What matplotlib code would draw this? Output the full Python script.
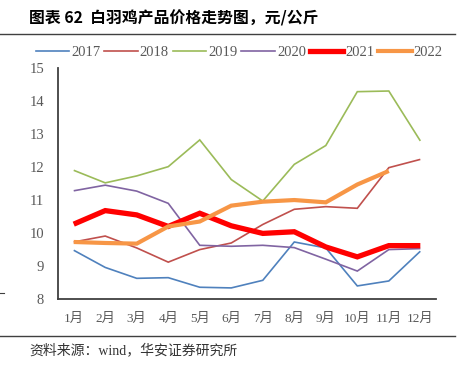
import matplotlib
matplotlib.use("Agg")
from matplotlib import pyplot as plt
from matplotlib.lines import Line2D

months = ["1月", "2月", "3月", "4月", "5月", "6月", "7月", "8月", "9月", "10月", "11月", "12月"]

p2017 = [9.48, 8.96, 8.63, 8.65, 8.36, 8.34, 8.57, 9.73, 9.55, 8.40, 8.55, 9.45]
p2018 = [9.73, 9.91, 9.55, 9.12, 9.50, 9.70, 10.26, 10.72, 10.80, 10.75, 11.98, 12.23]
p2019 = [11.90, 11.52, 11.73, 12.01, 12.82, 11.62, 10.97, 12.08, 12.65, 14.28, 14.30, 12.79]
p2020 = [11.28, 11.45, 11.27, 10.90, 9.63, 9.60, 9.63, 9.56, 9.21, 8.85, 9.50, 9.53]
p2021 = [10.27, 10.68, 10.55, 10.20, 10.60, 10.22, 9.99, 10.04, 9.58, 9.28, 9.62, 9.62]
p2022 = [9.73, 9.70, 9.68, 10.20, 10.35, 10.83, 10.95, 11.00, 10.93, 11.47, 11.88]

series = [
    ("2017", p2017, "#4F81BD", 1.2),
    ("2018", p2018, "#C0504D", 1.2),
    ("2019", p2019, "#9BBB59", 1.2),
    ("2020", p2020, "#8064A2", 1.2),
    ("2021", p2021, "#FF0000", 3.8),
    ("2022", p2022, "#F79646", 3.0),
]

cjk = ["Noto Sans CJK SC", "DejaVu Sans"]
serif_cjk = ["Liberation Serif", "Noto Sans CJK SC"]

fig = plt.figure(figsize=(4.6, 3.73), dpi=100)
ax = fig.add_axes([0.126, 0.198, 0.822, 0.620])

x = list(range(len(months)))
for name, vals, color, lw in series:
    ax.plot(x[:len(vals)], vals, color=color, lw=lw, label=name,
            solid_joinstyle="miter", solid_capstyle="butt")

ax.set_xlim(-0.5, 11.5)
ax.set_ylim(8, 15)
ax.set_yticks(range(8, 16))
ax.set_xticks(x)
ax.set_xticklabels(months, family=serif_cjk, fontsize=9.5, color="#595959")
for lab in ax.get_yticklabels():
    lab.set_family("Liberation Serif")
    lab.set_fontsize(10.5)
    lab.set_color("#595959")
ax.tick_params(axis="x", length=0, pad=10)
ax.tick_params(axis="y", length=0, pad=10)
for s in ["top", "right"]:
    ax.spines[s].set_visible(False)
for s in ["left", "bottom"]:
    ax.spines[s].set_color("#404040")
    ax.spines[s].set_linewidth(1.3)

handles = [Line2D([0], [0], color=c, lw=lw) for _, _, c, lw in series]
fig.legend(handles, [n for n, _, _, _ in series], loc="center", ncol=6,
           bbox_to_anchor=(0.52, 0.86), frameon=False, handlelength=2.3,
           handletextpad=0.15, columnspacing=0.25,
           prop={"family": "Liberation Serif", "size": 10.5}, labelcolor="#595959")

fig.text(0.063, 0.952, "图表 62  白羽鸡产品价格走势图，元/公斤", family=cjk,
         fontsize=11.4, fontweight="bold", ha="left", va="center")
fig.add_artist(Line2D([0.0, 0.99], [0.909, 0.909], color="#404040", lw=1.0))
fig.add_artist(Line2D([0.0, 0.99], [0.100, 0.100], color="#404040", lw=1.0))
fig.add_artist(Line2D([0.0, 0.008], [0.214, 0.214], color="#404040", lw=0.8))
fig.text(0.063, 0.060, "资料来源：wind，华安证券研究所", family=serif_cjk,
         fontsize=10, ha="left", va="center", color="#333333")

fig.savefig("out.png", dpi=100)
